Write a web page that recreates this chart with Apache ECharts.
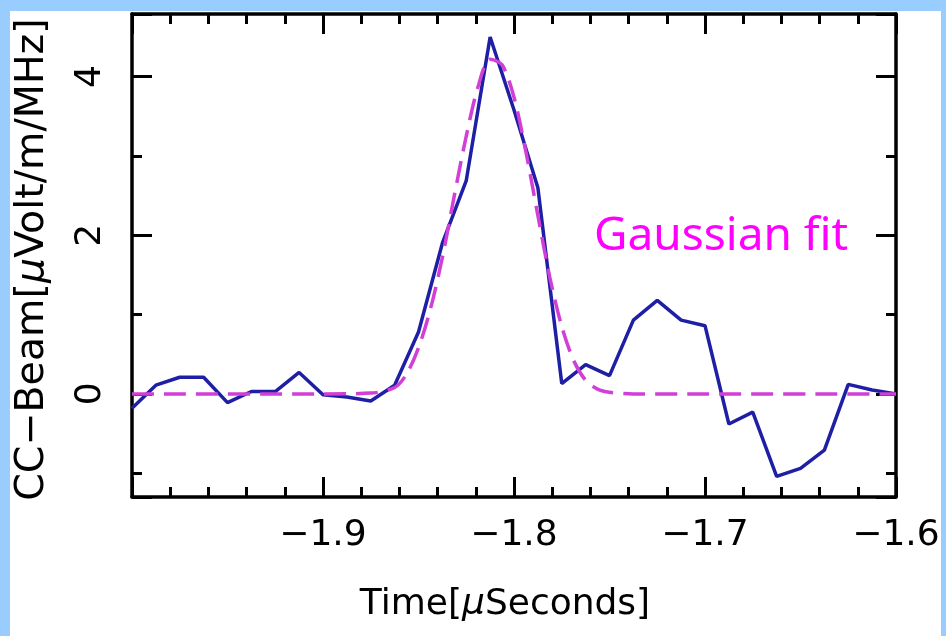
<!DOCTYPE html>
<html>
<head>
<meta charset="utf-8">
<script src="https://cdn.jsdelivr.net/npm/echarts@6/dist/echarts.min.js"></script>
<style>
  html, body { margin: 0; padding: 0; width: 946px; height: 636px; background: #99ccff; overflow: hidden; }
  #chart { position: absolute; left: 10px; top: 11px; width: 931px; height: 625px; background: #ffffff; }
</style>
</head>
<body>
<div id="chart"></div>
<script>
// ---- data ----
const times = [-2.0, -1.9875, -1.975, -1.9625, -1.95, -1.9375, -1.925, -1.9125, -1.9, -1.8875,
  -1.875, -1.8625, -1.85, -1.8375, -1.825, -1.8125, -1.8, -1.7875, -1.775, -1.7625,
  -1.75, -1.7375, -1.725, -1.7125, -1.7, -1.6875, -1.675, -1.6625, -1.65, -1.6375,
  -1.625, -1.6125, -1.6];
const ccBeam = [-0.18, 0.11, 0.21, 0.21, -0.11, 0.03, 0.03, 0.27, -0.01, -0.04,
  -0.09, 0.11, 0.78, 1.90, 2.69, 4.50, 3.58, 2.60, 0.13, 0.37,
  0.23, 0.93, 1.18, 0.93, 0.86, -0.38, -0.23, -1.04, -0.94, -0.71,
  0.12, 0.05, 0.0];
const fitTimes = [-2.0, -1.9, -1.875, -1.8625, -1.85625, -1.85, -1.84375, -1.8375, -1.83125, -1.825,
  -1.81875, -1.8125, -1.80625, -1.8, -1.79375, -1.7875, -1.78125, -1.775, -1.76875, -1.7625,
  -1.75625, -1.75, -1.7375, -1.7, -1.6];
const fitValues = [0, 0, 0.01, 0.08, 0.25, 0.58, 1.07, 1.72, 2.5, 3.25,
  3.88, 4.22, 4.15, 3.74, 3.05, 2.25, 1.47, 0.85, 0.42, 0.17,
  0.06, 0.02, 0, 0, 0];
const xTickLabels = ['\u22121.9', '\u22121.8', '\u22121.7', '\u22121.6'];
const yTickLabels = ['0', '2', '4'];
const xTitle = 'Time[{it|\u03bc}Seconds]';
const yTitle = 'CC\u2212Beam[{it|\u03bc}Volt/m/MHz]';
const annotation = 'Gaussian fit';

const X_MIN = -2.0, X_MAX = -1.6, Y_MIN = -1.30, Y_MAX = 4.79;

const chart = echarts.init(document.getElementById('chart'), null, { renderer: 'canvas' });
const FONT = 'DejaVu Sans';

function xLabel(v) {
  const s = '\u2212' + Math.abs(v).toFixed(1);
  return xTickLabels.indexOf(s) >= 0 ? s : '';
}
function yLabel(v) {
  const r = Math.round(v);
  if (Math.abs(v - r) > 1e-6) return '';
  const s = String(r);
  return yTickLabels.indexOf(s) >= 0 ? s : '';
}

function axisLineStyle(major) {
  return { show: major, onZero: false, lineStyle: { color: '#000', width: 3.5 } };
}
function xAxisDef(pos, major) {
  return {
    type: 'value', position: pos, min: X_MIN, max: X_MAX,
    interval: major ? 0.1 : 0.02,
    axisLine: axisLineStyle(major),
    axisTick: { show: true, inside: true, length: major ? 20 : 10, lineStyle: { color: '#000', width: 3 } },
    axisLabel: (major && pos === 'bottom') ? {
      show: true, formatter: xLabel, margin: 21, color: '#000',
      fontFamily: FONT, fontSize: 36
    } : { show: false },
    splitLine: { show: false },
    name: (major && pos === 'bottom') ? xTitle : '',
    nameLocation: 'middle', nameGap: 90,
    nameTextStyle: {
      fontFamily: FONT, fontSize: 36, color: '#000', padding: [0, 18, 0, 0],
      rich: { it: { fontFamily: FONT, fontSize: 36, fontStyle: 'italic', color: '#000' } }
    }
  };
}
function yAxisDef(pos, major) {
  return {
    type: 'value', position: pos, min: Y_MIN, max: Y_MAX,
    splitNumber: major ? 3 : 6,
    axisLine: axisLineStyle(major),
    axisTick: { show: true, inside: true, length: major ? 20 : 10, lineStyle: { color: '#000', width: 3 } },
    axisLabel: (major && pos === 'left') ? {
      show: true, formatter: yLabel, rotate: 90, margin: 23, color: '#000',
      fontFamily: FONT, fontSize: 36
    } : { show: false },
    splitLine: { show: false },
    name: (major && pos === 'left') ? yTitle : '',
    nameLocation: 'middle', nameGap: 79,
    nameTextStyle: {
      fontFamily: FONT, fontSize: 39.5, color: '#000', padding: [0, 8, 0, 0],
      rich: { it: { fontFamily: FONT, fontSize: 39.5, fontStyle: 'italic', color: '#000' } }
    }
  };
}

const option = {
  animation: false,
  backgroundColor: '#ffffff',
  grid: { left: 122, top: 3, width: 764, height: 483, containLabel: false, outerBoundsMode: 'none' },
  xAxis: [xAxisDef('bottom', true), xAxisDef('bottom', false), xAxisDef('top', true), xAxisDef('top', false)],
  yAxis: [yAxisDef('left', true), yAxisDef('left', false), yAxisDef('right', true), yAxisDef('right', false)],
  graphic: [{
    type: 'text', left: 584, top: 203, silent: true,
    style: { text: annotation, fill: '#ff00ff', font: '46px "Noto Sans"' }
  }],
  series: [
    {
      type: 'line', xAxisIndex: 0, yAxisIndex: 0,
      data: times.map((t, i) => [t, ccBeam[i]]),
      symbol: 'none', smooth: false, clip: true,
      lineStyle: { color: '#1f1fa5', width: 3.5 }
    },
    {
      type: 'line', xAxisIndex: 0, yAxisIndex: 0,
      data: fitTimes.map((t, i) => [t, fitValues[i]]),
      symbol: 'none', smooth: 0.3, clip: true,
      lineStyle: { color: '#d23fd6', width: 3.5, type: [22, 10] }
    }
  ]
};
chart.setOption(option);
</script>
</body>
</html>
